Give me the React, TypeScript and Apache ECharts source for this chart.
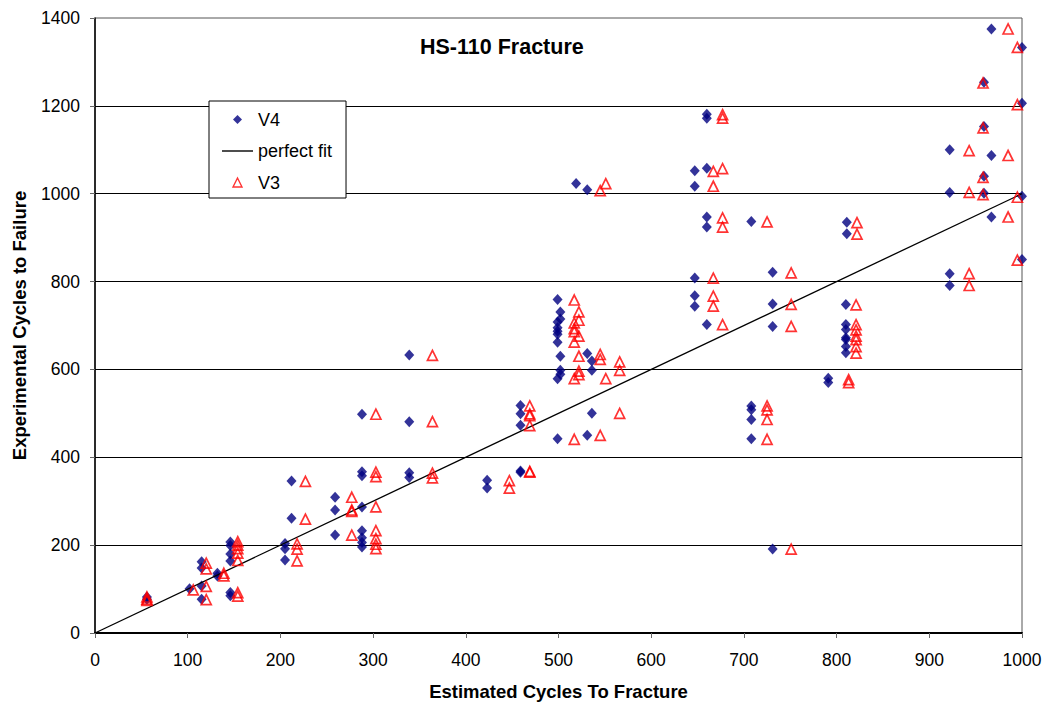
import React, { useEffect, useRef } from "react";
import * as echarts from "echarts";

// Estimated cycles to fracture vs. experimental cycles to failure, V4 model
const v4Points: [number, number][] = [
  [56, 82], [56, 77],
  [102, 101],
  [115, 162], [115, 148], [115, 107], [115, 77],
  [132, 136], [132, 130],
  [146, 207], [146, 199], [146, 180], [146, 164], [146, 92], [146, 85],
  [205, 204], [205, 192], [205, 166],
  [212, 346], [212, 261],
  [259, 309], [259, 280], [259, 223],
  [288, 498], [288, 367], [288, 358], [288, 287], [288, 233], [288, 217], [288, 206], [288, 196],
  [339, 633], [339, 481], [339, 365], [339, 354],
  [423, 348], [423, 330],
  [459, 518], [459, 499], [459, 473], [459, 369], [459, 366],
  [499, 759], [502, 731], [502, 715], [499, 708], [499, 695], [499, 687], [499, 680], [499, 662],
  [502, 630], [502, 598], [502, 589], [499, 579], [499, 442],
  [519, 1023], [531, 1009], [531, 636], [536, 619], [536, 598], [536, 500], [531, 450],
  [660, 1181], [660, 1172], [647, 1052], [660, 1058], [647, 1017], [660, 947], [660, 924],
  [647, 808], [647, 768], [647, 744], [660, 702],
  [708, 937], [708, 517], [708, 508], [708, 486], [708, 442],
  [731, 821], [731, 749], [731, 698], [731, 191],
  [791, 580], [791, 570],
  [811, 935], [811, 909], [810, 748], [810, 702], [810, 691], [810, 672], [810, 668], [810, 652], [810, 638],
  [922, 1100], [922, 1003], [922, 818], [922, 791],
  [959, 1254], [959, 1153], [959, 1040], [959, 1001],
  [967, 1375], [967, 1087], [967, 947],
  [1000, 1333], [1000, 1206], [1000, 994], [1000, 850],
];

// Same specimens, V3 model estimates
const v3Points: [number, number][] = [
  [56, 82], [56, 77], [56, 74],
  [106, 98],
  [120, 159], [120, 146], [120, 106], [120, 76],
  [139, 136], [139, 130],
  [154, 208], [154, 200], [154, 192], [154, 182], [154, 165], [154, 92], [154, 84],
  [218, 203], [218, 191], [218, 164],
  [227, 345], [227, 259],
  [277, 309], [277, 280], [277, 277], [277, 223],
  [303, 498], [303, 366], [303, 356], [303, 287], [303, 233], [303, 215], [303, 202], [303, 192],
  [364, 632], [364, 481], [364, 364], [364, 353],
  [447, 347], [447, 330],
  [469, 517], [469, 499], [469, 495], [469, 472], [469, 368], [469, 366],
  [517, 758], [522, 731], [522, 712], [517, 706], [517, 693], [517, 686], [522, 676], [517, 662],
  [522, 630], [522, 596], [522, 588], [517, 579], [517, 441],
  [545, 1007], [551, 1023], [545, 634], [545, 623], [566, 617], [566, 598], [551, 579], [566, 500], [545, 450],
  [677, 1180], [677, 1172], [667, 1051], [677, 1057], [667, 1017], [677, 945], [677, 924],
  [667, 808], [667, 767], [667, 744], [677, 702],
  [725, 936], [725, 517], [725, 508], [725, 486], [725, 441],
  [751, 820], [751, 748], [751, 698], [751, 191],
  [813, 577], [813, 570],
  [822, 934], [822, 908], [821, 747], [821, 702], [821, 690], [821, 676], [821, 668], [821, 652], [821, 637],
  [943, 1098], [943, 1003], [943, 818], [943, 791],
  [958, 1252], [958, 1150], [958, 1037], [958, 998],
  [985, 1375], [985, 1087], [985, 947],
  [995, 1333], [995, 1203], [995, 992], [995, 849],
];

// 1:1 reference line
const perfectFit: [number, number][] = [
  [0, 0],
  [1000, 1000],
];

const xRange = { min: 0, max: 1000, interval: 100 };
const yRange = { min: 0, max: 1400, interval: 200 };

const FONT = "'Liberation Sans', Arial, sans-serif";

// Legend glyphs (kept square / thin by the legend's symbolKeepAspect)
const DIAMOND_ICON = "path://M5,0L10,5L5,10L0,5Z";
const TRIANGLE_ICON = "path://M5,0L10,10L0,10Z";
const LINE_ICON = "path://M0,0L31,0L31,1.4L0,1.4Z";

export default function App() {
  const ref = useRef<HTMLDivElement>(null);

  useEffect(() => {
    if (!ref.current) return;
    const chart = echarts.init(ref.current, undefined, { renderer: "svg" });
    const plain = (v: number) => String(v);
    chart.setOption({
      animation: false,
      backgroundColor: "#ffffff",
      textStyle: { fontFamily: FONT },
      title: {
        text: "HS-110 Fracture",
        left: 420,
        top: 36,
        padding: 0,
        textStyle: { fontFamily: FONT, fontSize: 21.5, fontWeight: "bold", color: "#000" },
      },
      grid: {
        left: 95,
        top: 18,
        width: 927,
        height: 617,
        show: true,
        borderColor: "#555",
        borderWidth: 1,
        backgroundColor: "transparent",
      },
      legend: {
        orient: "vertical",
        left: 209,
        top: 101,
        padding: [9, 14, 6, 13],
        itemGap: 12.5,
        itemWidth: 31,
        itemHeight: 9,
        symbolKeepAspect: true,
        backgroundColor: "#fff",
        borderColor: "#000",
        borderWidth: 1,
        borderRadius: 0,
        textStyle: { fontFamily: FONT, fontSize: 18, color: "#000", lineHeight: 19 },
        data: [
          { name: "V4", icon: DIAMOND_ICON },
          { name: "perfect fit", icon: LINE_ICON },
          {
            name: "V3",
            icon: TRIANGLE_ICON,
            itemStyle: { color: "transparent", borderColor: "#ff0000", borderWidth: 1.4 },
          },
        ],
      },
      xAxis: {
        type: "value",
        ...xRange,
        name: "Estimated Cycles To Fracture",
        nameLocation: "middle",
        nameGap: 49,
        nameTextStyle: { fontFamily: FONT, fontSize: 18.5, fontWeight: "bold", color: "#000" },
        axisLine: { show: true, lineStyle: { color: "#000", width: 2 } },
        axisTick: { show: true, inside: false, length: 5, lineStyle: { color: "#666" } },
        axisLabel: { fontFamily: FONT, fontSize: 17.5, color: "#000", margin: 18, formatter: plain },
        splitLine: { show: false },
      },
      yAxis: {
        type: "value",
        ...yRange,
        name: "Experimental Cycles to Failure",
        nameLocation: "middle",
        nameGap: 66,
        nameTextStyle: { fontFamily: FONT, fontSize: 18.5, fontWeight: "bold", color: "#000" },
        axisLine: { show: true, lineStyle: { color: "#000", width: 1.5 } },
        axisTick: { show: true, inside: false, length: 5, lineStyle: { color: "#666" } },
        axisLabel: { fontFamily: FONT, fontSize: 17.5, color: "#000", margin: 15, formatter: plain },
        splitLine: { show: true, showMaxLine: false, showMinLine: false, lineStyle: { color: "#000", width: 1 } },
      },
      series: [
        {
          name: "V4",
          type: "scatter",
          data: v4Points,
          symbol: "diamond",
          symbolSize: [10, 11],
          itemStyle: { color: "#000080" },
          z: 2,
        },
        {
          name: "perfect fit",
          type: "line",
          data: perfectFit,
          symbol: "none",
          showSymbol: false,
          lineStyle: { color: "#000", width: 1.3 },
          itemStyle: { color: "#000" },
          z: 3,
        },
        {
          name: "V3",
          type: "scatter",
          data: v3Points,
          symbol: "triangle",
          symbolSize: 10,
          itemStyle: { color: "transparent", borderColor: "#ff0000", borderWidth: 1.7 },
          z: 4,
        },
      ],
    });
    return () => chart.dispose();
  }, []);

  return (
    <div
      ref={ref}
      style={{ position: "fixed", left: 0, top: 0, width: 1062, height: 706, background: "#fff" }}
    />
  );
}
